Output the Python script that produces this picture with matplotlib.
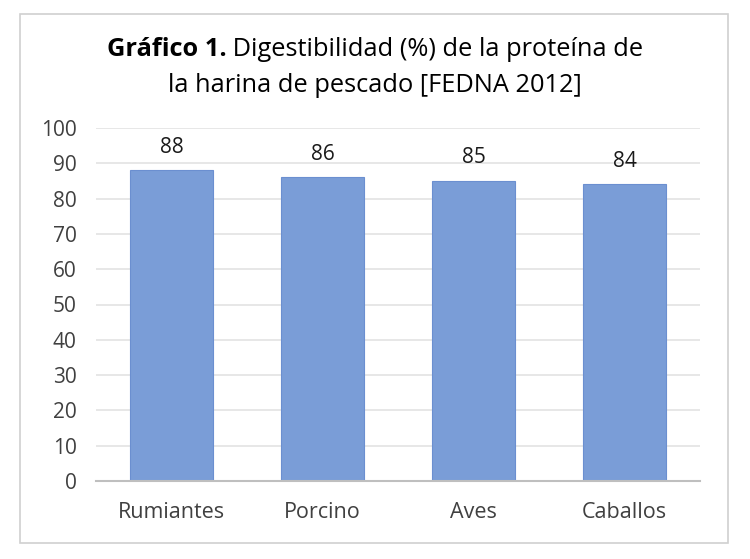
import matplotlib
matplotlib.use("Agg")
import matplotlib.pyplot as plt
from matplotlib.patches import Rectangle

categories = ["Rumiantes", "Porcino", "Aves", "Caballos"]
values = [88, 86, 85, 84]
yticks = [0, 10, 20, 30, 40, 50, 60, 70, 80, 90, 100]

plt.rcParams['font.family'] = ['Open Sans', 'DejaVu Sans']

W, H = 750, 559
fig = plt.figure(figsize=(W/100, H/100), dpi=100)
fig.patch.set_facecolor("white")

# outer frame
fig.patches.append(Rectangle((20/W, 1-543/H), (728-20)/W, (543-14)/H,
                             transform=fig.transFigure, fill=False,
                             edgecolor="#d0d0d0", linewidth=1.2))

ax = fig.add_axes([96/W, 1-481/H, (700-96)/W, (481-128)/H])
x = range(len(categories))
bars = ax.bar(x, values, width=0.55, color="#7a9dd7", edgecolor="#6b8fd0", linewidth=0.8, zorder=3)
ax.set_ylim(0, 100)
ax.set_xlim(-0.5, len(categories)-0.5)
ax.set_yticks(yticks)
ax.set_xticks(list(x))
ax.set_xticklabels(categories)
ax.tick_params(axis='both', length=0, colors="#404040")
ax.tick_params(axis='y', labelsize=15, pad=14)
ax.tick_params(axis='x', labelsize=15.5, pad=15)
ax.grid(axis='y', color="#e3e3e3", linewidth=1.2, zorder=0)
for s in ["top", "right", "left"]:
    ax.spines[s].set_visible(False)
ax.spines["bottom"].set_color("#bfbfbf")
ax.spines["bottom"].set_linewidth(1.5)
ax.spines["bottom"].set_zorder(4)

for b, v in zip(bars, values):
    ax.annotate(f"{v}", (b.get_x()+b.get_width()/2, v), xytext=(0, 9),
                textcoords="offset points", ha="center", va="bottom",
                fontsize=15, color="#1a1a1a")

# title with mixed weights
TS = 18.3
fig.canvas.draw()
r = fig.canvas.get_renderer()
t1 = fig.text(0, 1-50/H, "Gráfico 1.", fontsize=TS, fontweight="bold", va="center", color="black")
t2 = fig.text(0, 1-50/H, " Digestibilidad (%) de la proteína de", fontsize=TS, va="center", color="black")
w1 = t1.get_window_extent(r).width
w2 = t2.get_window_extent(r).width
start = (W/2 - (w1+w2)/2)
t1.set_x(start/W)
t2.set_x((start+w1)/W)
fig.text(0.5, 1-85/H, "la harina de pescado [FEDNA 2012]", fontsize=TS, ha="center", va="center", color="black")

fig.savefig("out.png", dpi=100, facecolor="white")
